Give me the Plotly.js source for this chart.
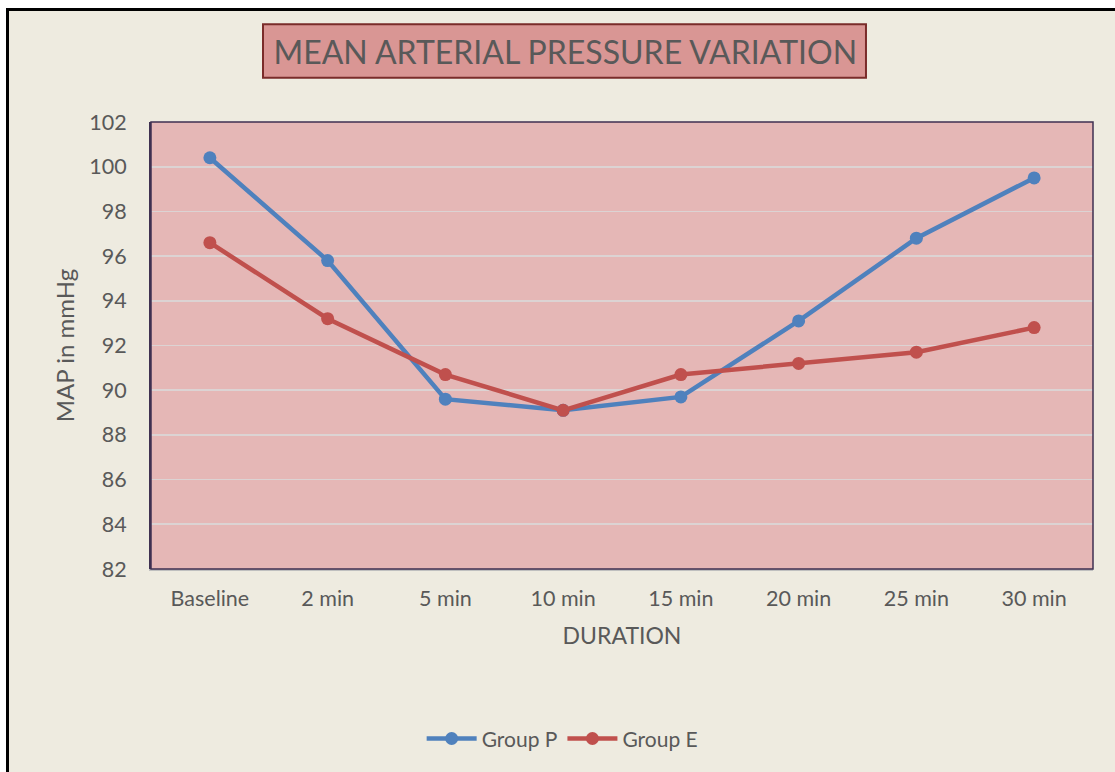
<!DOCTYPE html>
<html>
<head>
<meta charset="utf-8">
<script src="https://cdn.plot.ly/plotly-3.0.1.min.js"></script>
<style>
  html, body { margin: 0; padding: 0; background: #ffffff; }
  #wrap { position: relative; width: 1115px; height: 772px; overflow: hidden; background: #ffffff; }
  #chart { position: absolute; left: 6px; top: 8px; width: 1106px; height: 761px;
           border-left: 3px solid #000; border-top: 3px solid #000; }
</style>
</head>
<body>
<div id="wrap"><div id="chart"></div></div>
<script>
const categories = ["Baseline", "2 min", "5 min", "10 min", "15 min", "20 min", "25 min", "30 min"];
const groupP = [100.4, 95.8, 89.6, 89.1, 89.7, 93.1, 96.8, 99.5];
const groupE = [96.6, 93.2, 90.7, 89.1, 90.7, 91.2, 91.7, 92.8];
const yTicks = [82, 84, 86, 88, 90, 92, 94, 96, 98, 100, 102];

const FONT = "Lato, 'Open Sans', sans-serif";
const TXT = "#595959";

const traces = [
  { x: categories, y: groupP, name: "Group P", type: "scatter", mode: "lines+markers",
    line: { color: "#4F81BD", width: 4.5 }, marker: { color: "#4F81BD", size: 13 } },
  { x: categories, y: groupE, name: "Group E", type: "scatter", mode: "lines+markers",
    line: { color: "#C0504D", width: 4.5 }, marker: { color: "#C0504D", size: 13 } }
];

const layout = {
  width: 1106, height: 761,
  margin: { l: 142, r: 22, t: 111, b: 195 },
  paper_bgcolor: "#EEEBE0",
  plot_bgcolor: "#E5B7B6",
  font: { family: FONT, color: TXT, size: 21 },
  title: { text: "MEAN ARTERIAL PRESSURE VARIATION", font: { family: FONT, size: 32, color: TXT },
           xref: "container", x: 0.503, xanchor: "center", yref: "container", y: 0.945, yanchor: "middle" },
  xaxis: {
    type: "category", range: [-0.5, 7.5], showgrid: false, zeroline: false,
    showline: true, linecolor: "#BFBFBF", linewidth: 1.5, ticks: "",
    tickfont: { family: FONT, size: 21.5, color: TXT }, ticklabelstandoff: 10,
    title: { text: "DURATION", font: { family: FONT, size: 23, color: TXT }, standoff: 17 }
  },
  yaxis: {
    range: [82, 102], tickvals: yTicks, ticktext: yTicks.map(String),
    showgrid: true, gridcolor: "#DCD3D3", gridwidth: 1.6, zeroline: false,
    showline: true, linecolor: "#3F3151", linewidth: 2, ticks: "",
    tickfont: { family: FONT, size: 21.5, color: TXT }, ticklabelstandoff: 18,
    title: { text: "MAP in mmHg", font: { family: FONT, size: 24, color: TXT }, standoff: 8 }
  },
  showlegend: true,
  legend: { orientation: "h", x: 0.437, xanchor: "center", y: -0.38, yanchor: "middle",
            font: { family: FONT, size: 21, color: TXT }, bgcolor: "rgba(0,0,0,0)", itemwidth: 50 },
  shapes: [
    { type: "rect", xref: "paper", yref: "paper", x0: 0, x1: 1, y0: 0, y1: 1,
      line: { color: "#3F3151", width: 1.5 }, fillcolor: "rgba(0,0,0,0)", layer: "above" },
    { type: "rect", xref: "paper", yref: "paper", x0: 0.1189, x1: 0.759, y0: 1.099, y1: 1.2185,
      line: { color: "#7A2C2A", width: 2 }, fillcolor: "#D99694", layer: "below" }
  ]
};

Plotly.newPlot("chart", traces, layout, { displayModeBar: false, staticPlot: true });
</script>
</body>
</html>
